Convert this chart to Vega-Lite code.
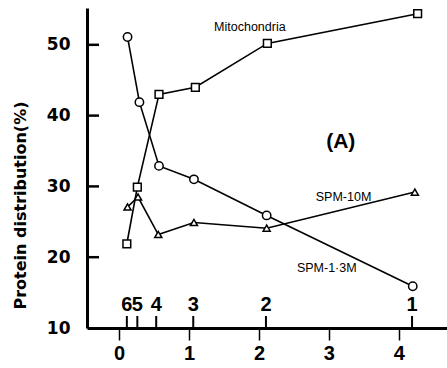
{
  "$schema": "https://vega.github.io/schema/vega-lite/v6.json",
  "width": 360,
  "height": 320,
  "autosize": {"type": "none"},
  "padding": {"left": 87, "top": 8, "right": 0, "bottom": 40},
  "background": "white",
  "config": {"view": {"stroke": null}, "font": "Liberation Sans"},
  "datasets": {
    "main": [
      {"series": "SPM-1·3M", "x": 0.12, "y": 51.1},
      {"series": "SPM-1·3M", "x": 0.29, "y": 41.9},
      {"series": "SPM-1·3M", "x": 0.57, "y": 32.9},
      {"series": "SPM-1·3M", "x": 1.07, "y": 31.0},
      {"series": "SPM-1·3M", "x": 2.11, "y": 25.9},
      {"series": "SPM-1·3M", "x": 4.2, "y": 15.9},
      {"series": "Mitochondria", "x": 0.11, "y": 21.9},
      {"series": "Mitochondria", "x": 0.26, "y": 29.9},
      {"series": "Mitochondria", "x": 0.57, "y": 43.0},
      {"series": "Mitochondria", "x": 1.09, "y": 44.0},
      {"series": "Mitochondria", "x": 2.12, "y": 50.2},
      {"series": "Mitochondria", "x": 4.27, "y": 54.4},
      {"series": "SPM-10M", "x": 0.12, "y": 27.1},
      {"series": "SPM-10M", "x": 0.27, "y": 28.5},
      {"series": "SPM-10M", "x": 0.56, "y": 23.2},
      {"series": "SPM-10M", "x": 1.07, "y": 24.9},
      {"series": "SPM-10M", "x": 2.11, "y": 24.1},
      {"series": "SPM-10M", "x": 4.23, "y": 29.2}
    ],
    "fractions": [
      {"x": 0.11, "lab": "6"},
      {"x": 0.26, "lab": "5"},
      {"x": 0.53, "lab": "4"},
      {"x": 1.06, "lab": "3"},
      {"x": 2.1, "lab": "2"},
      {"x": 4.19, "lab": "1"}
    ],
    "yticks": [{"y": 20}, {"y": 30}, {"y": 40}, {"y": 50}],
    "notes": [
      {"x": 1.87, "y": 52.5, "text": "Mitochondria", "kind": "a"},
      {"x": 3.21, "y": 28.5, "text": "SPM-10M", "kind": "b"},
      {"x": 2.97, "y": 18.5, "text": "SPM-1·3M", "kind": "b"}
    ],
    "panel": [{"x": 3.17, "y": 36.3, "text": "(A)"}]
  },
  "layer": [
    {
      "data": {"name": "main"},
      "mark": {"type": "line", "color": "black", "strokeWidth": 1.6},
      "encoding": {
        "x": {
          "field": "x", "type": "quantitative",
          "scale": {"domain": [-0.46, 4.69], "nice": false, "zero": false},
          "axis": {
            "values": [0, 1, 2, 3, 4], "format": "d", "title": null, "grid": false,
            "domainColor": "black", "domainWidth": 3,
            "tickColor": "black", "tickSize": 12, "tickWidth": 1.5,
            "labelFontSize": 20, "labelFontWeight": "bold", "labelColor": "black",
            "labelPadding": 3, "labelFlush": false
          }
        },
        "y": {
          "field": "y", "type": "quantitative",
          "scale": {"domain": [10, 55.2], "nice": false, "zero": false},
          "axis": {
            "values": [10, 20, 30, 40, 50], "grid": false,
            "title": "Protein distribution(%)",
            "titleFont": "DejaVu Sans",
            "titleFontSize": 16, "titleFontWeight": "bold", "titleColor": "black",
            "titleX": -67, "titleY": 197, "titleAngle": -90, "titleBaseline": "middle", "titleAlign": "center",
            "domainColor": "black", "domainWidth": 3,
            "ticks": false,
            "labelFont": "DejaVu Sans",
            "labelFontSize": 17, "labelFontWeight": "bold", "labelColor": "black",
            "labelPadding": 17, "labelFlush": false
          }
        },
        "detail": {"field": "series"}
      }
    },
    {
      "data": {"name": "yticks"},
      "mark": {"type": "tick", "orient": "horizontal", "color": "black", "thickness": 2.5, "size": 12, "opacity": 1},
      "encoding": {
        "y": {"field": "y", "type": "quantitative"},
        "x": {"datum": -0.374}
      }
    },
    {
      "data": {"name": "fractions"},
      "mark": {"type": "tick", "orient": "vertical", "color": "black", "thickness": 2, "size": 12, "opacity": 1},
      "encoding": {
        "x": {"field": "x", "type": "quantitative"},
        "y": {"datum": 10.85}
      }
    },
    {
      "data": {"name": "main"},
      "mark": {"type": "point", "filled": false, "fill": "white", "fillOpacity": 1, "stroke": "black", "strokeWidth": 1.5, "opacity": 1},
      "encoding": {
        "x": {"field": "x", "type": "quantitative"},
        "y": {"field": "y", "type": "quantitative"},
        "shape": {
          "field": "series", "type": "nominal",
          "scale": {"domain": ["SPM-1·3M", "Mitochondria", "SPM-10M"], "range": ["circle", "square", "triangle-up"]},
          "legend": null
        },
        "size": {
          "field": "series", "type": "nominal",
          "scale": {"domain": ["SPM-1·3M", "Mitochondria", "SPM-10M"], "range": [70, 50, 35]},
          "legend": null
        }
      }
    },
    {
      "data": {"name": "fractions"},
      "mark": {"type": "text", "fontSize": 20, "fontWeight": "bold", "color": "black", "baseline": "middle"},
      "encoding": {
        "x": {"field": "x", "type": "quantitative"},
        "y": {"datum": 13.3},
        "text": {"field": "lab"}
      }
    },
    {
      "data": {"name": "notes"},
      "mark": {"type": "text", "color": "black", "baseline": "middle", "fontSize": 12.5},
      "encoding": {
        "x": {"field": "x", "type": "quantitative"},
        "y": {"field": "y", "type": "quantitative"},
        "text": {"field": "text"},
        "fontWeight": {"field": "kind", "type": "nominal", "scale": {"domain": ["a", "b"], "range": ["normal", "bold"]}, "legend": null}
      }
    },
    {
      "data": {"name": "panel"},
      "mark": {"type": "text", "color": "black", "baseline": "middle", "fontSize": 21, "fontWeight": "bold"},
      "encoding": {
        "x": {"field": "x", "type": "quantitative"},
        "y": {"field": "y", "type": "quantitative"},
        "text": {"field": "text"}
      }
    }
  ]
}
